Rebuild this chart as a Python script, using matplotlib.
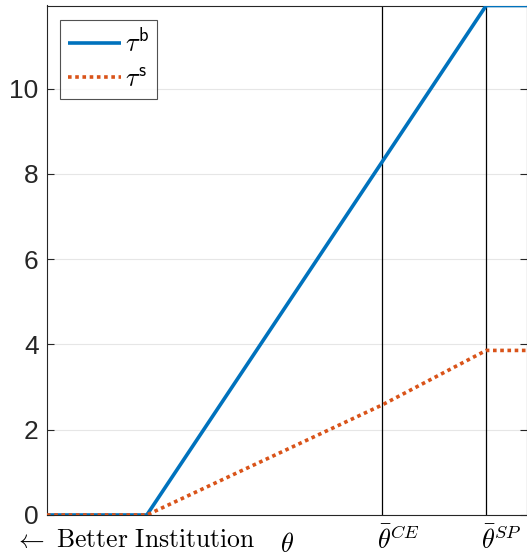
import matplotlib
matplotlib.use("Agg")
import matplotlib.pyplot as plt

# data
theta = [0.0, 0.208, 0.698, 0.915, 1.0]
tau_b = [0.0, 0.0, 8.28, 11.95, 11.95]
tau_s = [0.0, 0.0, 2.58, 3.86, 3.86]
theta_ce = 0.698
theta_sp = 0.915
yticks = [0, 2, 4, 6, 8, 10]
legend_labels = [r'$\tau^{\mathsf{b}}$', r'$\tau^{\mathsf{s}}$']

plt.rcParams['mathtext.fontset'] = 'cm'
plt.rcParams['font.family'] = ['Liberation Sans', 'DejaVu Sans']

fig = plt.figure(figsize=(5.27, 5.57), dpi=100)
W, H = 527, 557
ax = fig.add_axes([47 / W, 1 - 515 / H, (527 - 47) / W, (515 - 5.5) / H])

ax.plot(theta, tau_b, color='#0072BD', lw=2.6, label=legend_labels[0], zorder=3, solid_capstyle='butt')
ax.plot(theta, tau_s, color='#D95319', lw=2.6, ls=(0, (1, 1)), label=legend_labels[1], zorder=3)
ax.axvline(theta_ce, color='black', lw=0.9, zorder=2)
ax.axvline(theta_sp, color='black', lw=0.9, zorder=2)

ax.set_xlim(0, 1)
ax.set_ylim(0, max(tau_b))
ax.set_yticks(yticks)
ax.set_xticks([])
ax.tick_params(axis='y', direction='in', length=5, labelsize=19, right=True, width=0.8,
               colors='#262626', pad=6)
ax.yaxis.grid(True, color='#e6e6e6', lw=0.8)
ax.set_axisbelow(True)
for s in ax.spines.values():
    s.set_color('#262626')
    s.set_linewidth(0.8)

ty = -0.026
ax.text(-0.068, ty, r'$\leftarrow\ \mathrm{Better\ Institution}$', transform=ax.transAxes,
        ha='left', va='top', fontsize=18.5)
ax.text(0.5, ty - 0.010, r'$\theta$', transform=ax.transAxes, ha='center', va='top', fontsize=19)
ax.text(theta_ce - 0.01, ty + 0.004, r'$\bar{\theta}^{CE}$', transform=ax.get_xaxis_transform(),
        ha='left', va='top', fontsize=19)
ax.text(theta_sp - 0.01, ty + 0.004, r'$\bar{\theta}^{SP}$', transform=ax.get_xaxis_transform(),
        ha='left', va='top', fontsize=19)

leg = ax.legend(loc='upper left', bbox_to_anchor=(13 / 480, 1 - 14 / 509.5), fontsize=19,
                frameon=True, fancybox=False, edgecolor='#262626', handlelength=2.0,
                handletextpad=0.15, borderpad=0.3, labelspacing=0.4, borderaxespad=0)
leg.get_frame().set_linewidth(0.8)

fig.savefig('out.png', dpi=100)
